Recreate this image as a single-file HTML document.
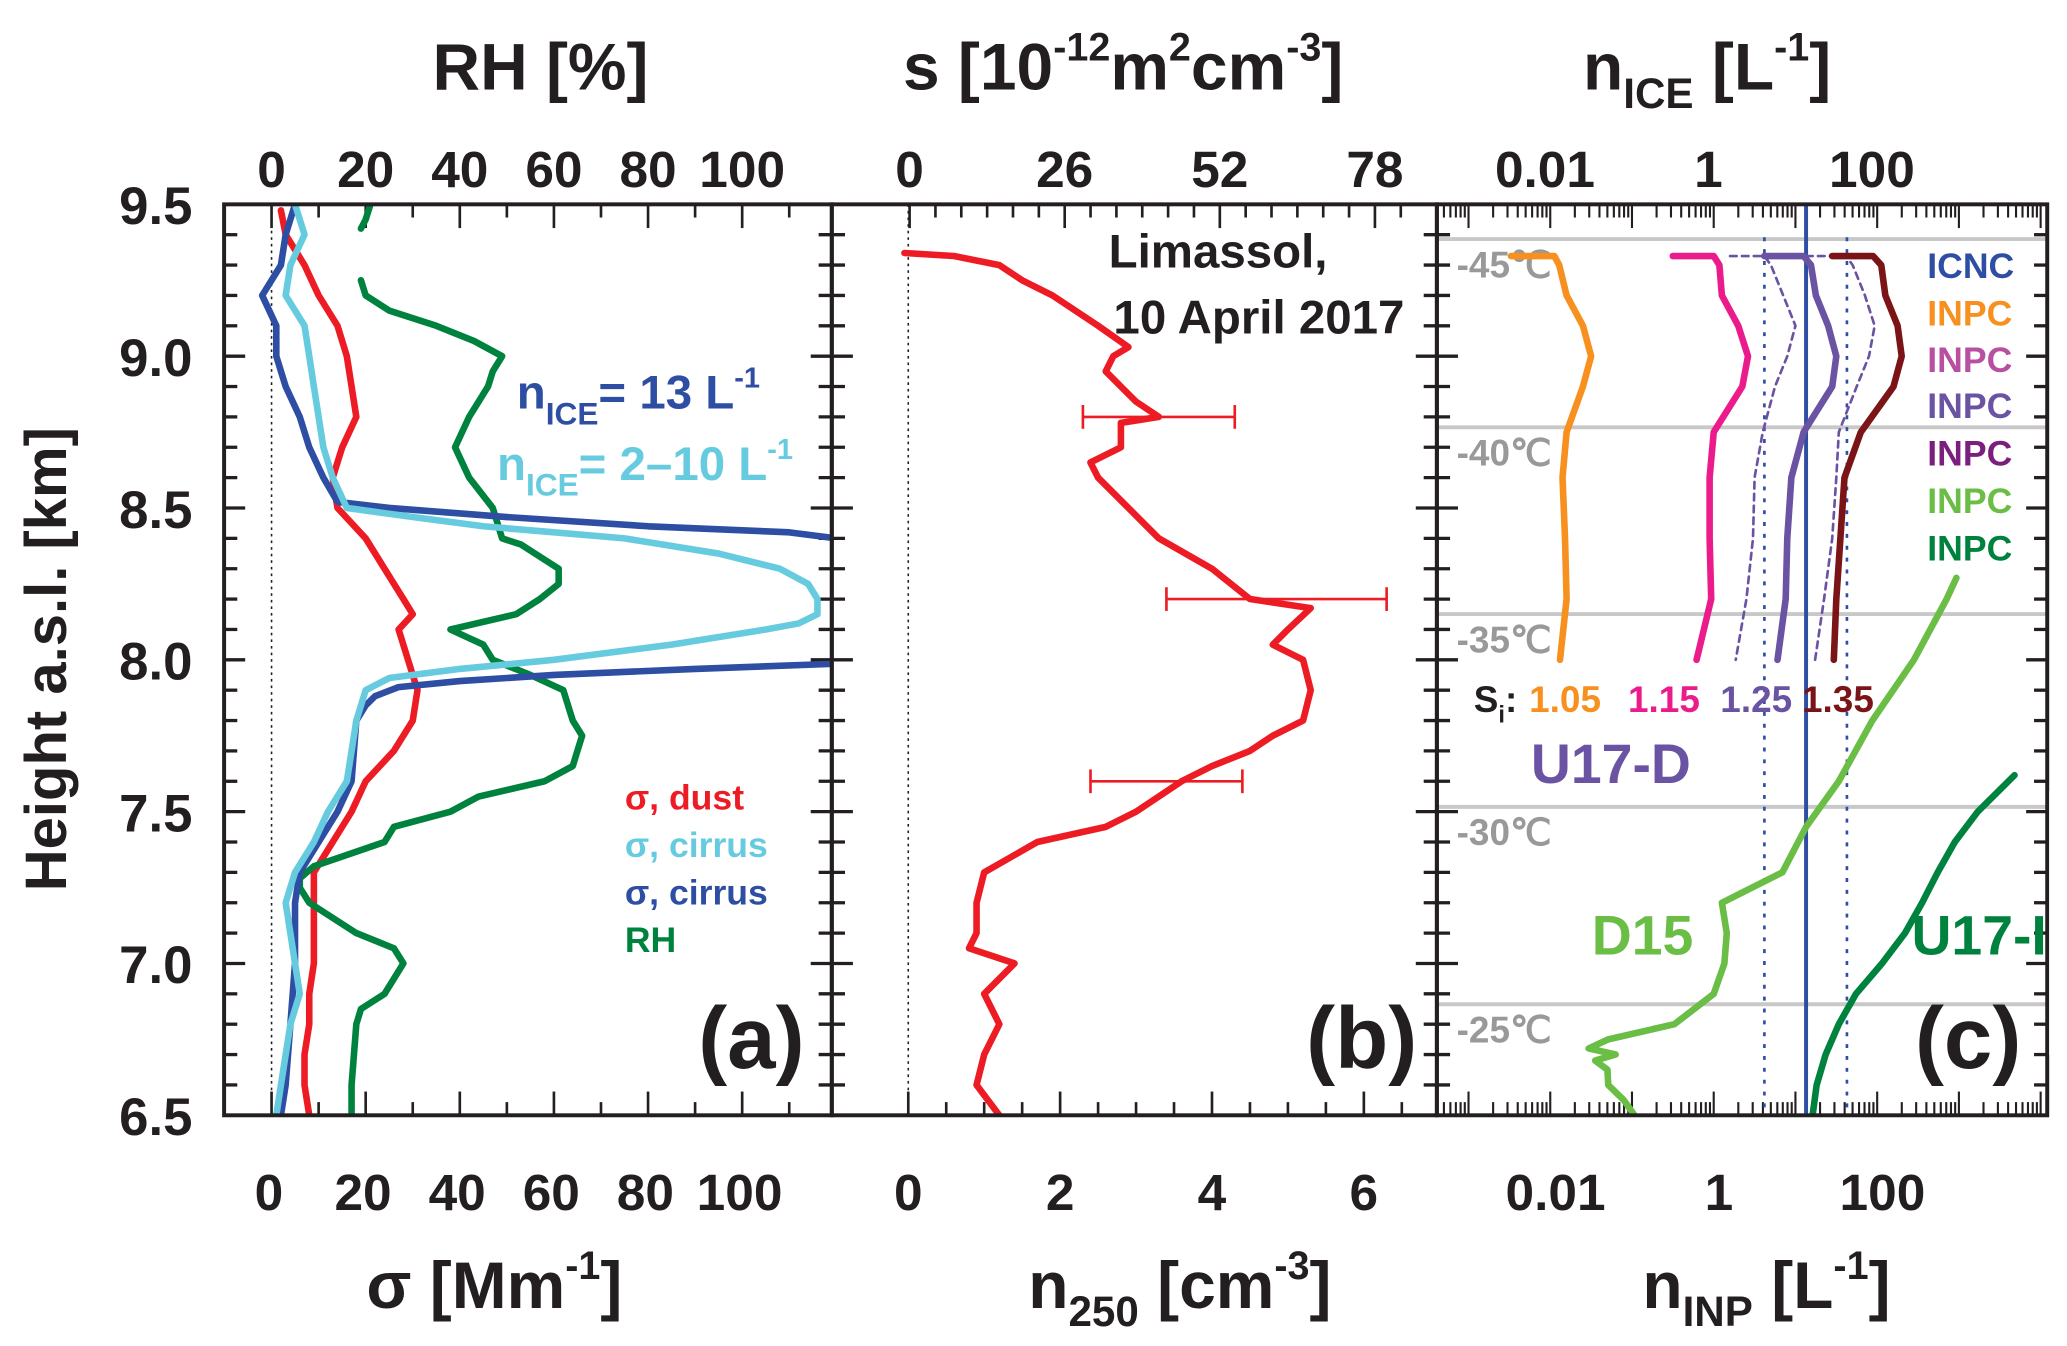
<!DOCTYPE html>
<html><head><meta charset="utf-8"><style>
html,body{margin:0;padding:0;background:#fff;}
svg{display:block;}
text{font-family:"Liberation Sans",Arial,sans-serif;font-weight:bold;}
</style></head><body>
<svg id="fig" xmlns="http://www.w3.org/2000/svg" width="2067" height="1346" viewBox="0 0 1568 1021" preserveAspectRatio="none"></svg>
<script>
// ---------- data ----------
const dustH=[9.48,9.4,9.3,9.2,9.1,9.0,8.9,8.8,8.7,8.6,8.5,8.4,8.3,8.2,8.15,8.1,8.0,7.9,7.8,7.7,7.6,7.5,7.4,7.3,7.2,7.1,7.0,6.9,6.8,6.7,6.6,6.5];
const dustV=[2,3,7,10,14,16,17,18,15,13,14,20,24,28,30,27,29,31,30,26,20,17,13,9,9,9,9,8,8,7,7,8];
const cirBH=[9.5,9.4,9.3,9.2,9.1,9.0,8.9,8.8,8.7,8.6,8.52,8.5,8.47,8.44,8.42,8.39];
const cirBV=[5,3,2,-2,1,1,3,6,8,11,14,25,50,80,110,125];
const cirB2H=[7.99,7.97,7.95,7.93,7.91,7.88,7.85,7.8,7.6,7.5,7.4,7.3,7.2,7.0,6.8,6.6,6.5];
const cirB2V=[125,90,60,40,27,22,20,18,17,14,10,6,5,5,4,3,2];
const cirCH=[9.5,9.4,9.3,9.2,9.1,9.0,8.9,8.8,8.7,8.6,8.5,8.47,8.44,8.42,8.4,8.35,8.3,8.25,8.2,8.15,8.12,8.1,8.05,8.0,7.97,7.94,7.9,7.8,7.6,7.5,7.4,7.3,7.2,7.0,6.9,6.8,6.6,6.5];
const cirCV=[5,7,4,3,7,8,9,10,11,13,16,30,45,60,75,95,108,114,116,116,112,105,85,60,40,25,20,18,16,12,9,5,3,5,6,4,2,1];
const rhH1=[9.5,9.45,9.42];
const rhV1=[21,20,19];
const rhH2=[9.25,9.2,9.15,9.1,9.05,9.0,8.95,8.9,8.8,8.7,8.6,8.5,8.45,8.4,8.38,8.3,8.25,8.2,8.15,8.1,8.05,8.0,7.95,7.9,7.8,7.75,7.7,7.65,7.6,7.55,7.5,7.45,7.4,7.32,7.28,7.25,7.2,7.1,7.05,7.0,6.95,6.9,6.85,6.8,6.6,6.5];
const rhV2=[19,20,25,35,43,49,47,46,42,39,42,47,48,49,53,61,61,57,52,38,45,47,55,62,64,66,65,64,58,44,38,26,24,9,6,6,8,18,26,28,26,24,19,18,17,17];
const nH=[9.34,9.33,9.3,9.25,9.2,9.1,9.03,9.0,8.95,8.9,8.85,8.8,8.78,8.7,8.65,8.6,8.5,8.4,8.3,8.2,8.17,8.1,8.05,8.0,7.9,7.8,7.75,7.7,7.65,7.6,7.5,7.45,7.4,7.3,7.2,7.1,7.05,7.0,6.9,6.8,6.7,6.6,6.5];
const nV=[-0.05,0.6,1.2,1.5,1.9,2.5,2.9,2.7,2.6,2.8,3.0,3.3,2.8,2.8,2.4,2.5,2.9,3.3,4.0,4.5,5.3,5.0,4.8,5.2,5.3,5.2,4.8,4.5,4.0,3.6,3.0,2.6,1.7,1.0,0.9,0.9,0.8,1.4,1.0,1.2,1.0,0.9,1.2];
const errH=[8.8,8.2,7.6];
const errLo=[2.3,3.4,2.4];
const errHi=[4.3,6.3,4.4];
const orH=[9.33,9.33,9.3,9.2,9.1,9.0,8.9,8.75,8.6,8.4,8.2,8.0];
const orV=[-2.48,-1.95,-1.89,-1.8,-1.6,-1.5,-1.6,-1.8,-1.85,-1.82,-1.8,-1.88];
const pkH=[9.33,9.33,9.3,9.2,9.1,9.0,8.9,8.75,8.6,8.4,8.2,8.0];
const pkV=[-0.5,0.0,0.07,0.1,0.3,0.42,0.35,0.0,-0.05,-0.05,-0.03,-0.21];
const puH=[9.33,9.33,9.3,9.2,9.1,9.0,8.9,8.75,8.6,8.4,8.2,8.0];
const puV=[0.62,1.1,1.19,1.25,1.4,1.5,1.45,1.1,0.95,0.9,0.88,0.78];
const drH=[9.33,9.33,9.3,9.2,9.1,9.0,8.9,8.75,8.6,8.4,8.2,8.0];
const drV=[1.45,1.95,2.05,2.1,2.25,2.3,2.2,1.8,1.6,1.55,1.5,1.47];
const dlH=[9.33,9.33,9.3,9.2,9.1,9.0,8.9,8.75,8.6,8.4,8.2,8.0];
const dlV=[0.2,0.62,0.7,0.85,1.0,0.9,0.75,0.6,0.5,0.48,0.4,0.27];
const drsH=[9.33,9.33,9.3,9.2,9.1,9.0,8.9,8.75,8.6,8.4,8.2,8.0];
const drsV=[1.13,1.62,1.7,1.85,1.97,1.9,1.75,1.53,1.5,1.45,1.35,1.24];
const d15H=[8.27,8.2,8.0,7.8,7.6,7.45,7.3,7.2,7.1,7.0,6.9,6.8,6.75,6.72,6.7,6.68,6.65,6.6,6.55,6.5];
const d15V=[2.97,2.85,2.45,1.94,1.53,1.13,0.84,0.1,0.16,0.13,0.0,-0.48,-1.29,-1.53,-1.2,-1.45,-1.3,-1.29,-1.1,-0.97];
const u17H=[7.62,7.5,7.4,7.3,7.2,7.1,7.0,6.9,6.8,6.7,6.6,6.5];
const u17V=[3.68,3.23,2.95,2.74,2.55,2.34,2.06,1.74,1.53,1.37,1.26,1.21];
const icnc=[1.13];
const icncRange=[0.62,1.63];
const tempH=[9.39,8.77,8.155,7.52,6.87];
const tempLbl=["-45\u2103","-40\u2103","-35\u2103","-30\u2103","-25\u2103"];
const yTicks=[6.5,7.0,7.5,8.0,8.5,9.0,9.5];
const sigTicks=[0,20,40,60,80,100];
const nTicks=[0,2,4,6];
const sTicks=[0,26,52,78];
const logTicks=[-2,0,2];
const logLbl=["0.01","1","100"];

// ---------- axes ----------
const NS="http://www.w3.org/2000/svg";
const svg=document.getElementById('fig');
const T=155,B=846;
const y=h=>T+(9.5-h)*(B-T)/3;
const xa=v=>206+v*3.57;
const xb=v=>689+v*57.6;
const xs=v=>690+v*(1043-690)/78;
const xc=v=>1300+v*62;
const A=[170,631],Bp=[631,1090],C=[1090,1553];
function el(tag,attrs,parent){const e=document.createElementNS(NS,tag);for(const k in attrs)e.setAttribute(k,attrs[k]);(parent||svg).appendChild(e);return e;}
function clip(id,r){const c=el('clipPath',{id:id});el('rect',{x:r[0],y:T,width:r[1]-r[0],height:B-T},c);}
clip('ca',A);clip('cb',Bp);clip('cc',C);
function line(x1,y1,x2,y2,st,w,extra){return el('line',Object.assign({x1,y1,x2,y2,stroke:st,'stroke-width':w},extra||{}));}
function txt(s,x,yy,size,fill,anchor,extra){const t=el('text',Object.assign({x,y:yy,'font-size':size,fill:fill||'#231f20','text-anchor':anchor||'middle'},extra||{}));t.textContent=s;return t;}
function poly(H,V,fx,color,w,clipId,name,dash){
 const pts=H.map((h,i)=>fx(V[i]).toFixed(1)+','+y(h).toFixed(1)).join(' ');
 const p=el('polyline',{points:pts,fill:'none',stroke:color,'stroke-width':w,'stroke-linejoin':'round','stroke-linecap':'round','clip-path':'url(#'+clipId+')'});
 if(dash)p.setAttribute('stroke-dasharray',dash);
 
 
 return p;
}

tempH.forEach((h,i)=>{
 const l=line(C[0],y(h)+1,C[1],y(h)+1,'#c8c8c8',3);
 
 
 const t=txt(tempLbl[i],1105,y(h)+30,28,'#999','start',{'font-weight':'normal'});
 
 
});

line(xa(0),T,xa(0),B,'#231f20',1.2,{'stroke-dasharray':'2,3'});
line(xb(0),T,xb(0),B,'#231f20',1.2,{'stroke-dasharray':'2,3'});

for(let k=0;k<=30;k++){const h=6.5+k*0.1,yy=y(h),maj=(k%5===0);
 const L=maj?16:10;
 line(170,yy,170+L,yy,'#231f20',2.5);
 line(631-L,yy,631+L,yy,'#231f20',2.5);
 line(1090-L,yy,1090+L,yy,'#231f20',2.5);
 line(1553-L,yy,1553,yy,'#231f20',2.5);
}
yTicks.forEach(h=>{const t=txt(h.toFixed(1),146,y(h)+15,40,null,'end');});
for(let v=0;v<=120;v+=10){const maj=v%20===0,L=maj?18:10;
 if(xa(v)>A[1])break;
 line(xa(v),T,xa(v),T+L,'#231f20',2);line(xa(v),B,xa(v),B-L,'#231f20',2);}
sigTicks.forEach(v=>{const t1=txt(String(v),xa(v)-2,918,39);
 const t2=txt(String(v),xa(v),142,39);});
for(let v=0;v<=7;v+=0.5){const L=(v%2===0)?18:10;if(xb(v)>Bp[1])break;line(xb(v),B,xb(v),B-L,'#231f20',2);}
for(let v=0;v<=84;v+=13/3){const L=(Math.abs(v/26-Math.round(v/26))<0.01)?18:10;if(xs(v)>Bp[1])break;line(xs(v),T,xs(v),T+L,'#231f20',2);}
nTicks.forEach(v=>{const t=txt(String(v),xb(v),918,39);});
sTicks.forEach(v=>{const t=txt(String(v),xs(v),142,39);});
for(let d=-4;d<=4;d++){for(let m=1;m<10;m++){const lv=d+Math.log10(m),xx=xc(lv);if(xx<C[0]||xx>C[1])continue;const L=m===1?18:10;
 line(xx,T,xx,T+L,'#231f20',1.6);line(xx,B,xx,B-L,'#231f20',1.6);}}
logTicks.forEach((v,i)=>{const t=txt(logLbl[i],xc(v)-4,142,39);
 const t2=txt(logLbl[i],xc(v)+4,918,39);});

const ic=line(xc(icnc[0]),T,xc(icnc[0]),B,'#2e4ea3',3);
icncRange.forEach(v=>{const d=line(xc(v),T+25,xc(v),B,'#2e4ea3',2,{'stroke-dasharray':'3,6'});});

poly(dustH,dustV,xa,'#ed1c24',5,'ca','dust-sigma-line');
poly(rhH1,rhV1,xa,'#00823f',5,'ca','rh-line-top');
poly(rhH2,rhV2,xa,'#00823f',5,'ca','rh-line');
poly(cirBH,cirBV,xa,'#2e4ea3',5,'ca','cirrus-sigma-13-line');
poly(cirB2H,cirB2V,xa,'#2e4ea3',5,'ca','cirrus-sigma-13-line-lower');
poly(cirCH,cirCV,xa,'#67cbe0',5,'ca','cirrus-sigma-2-10-line');
poly(nH,nV,xb,'#ed1c24',5,'cb','n250-line');
errH.forEach((h,i)=>{const yy=y(h);
 const g=el('g',{stroke:'#ed1c24','stroke-width':2});
 
 el('line',{x1:xb(errLo[i]),y1:yy,x2:xb(errHi[i]),y2:yy},g);
 el('line',{x1:xb(errLo[i]),y1:yy-9,x2:xb(errLo[i]),y2:yy+9},g);
 el('line',{x1:xb(errHi[i]),y1:yy-9,x2:xb(errHi[i]),y2:yy+9},g);});
poly(dlH,dlV,xc,'#6a53a3',2,'cc','inpc-125-lower-dashed','5,4');
poly(drsH,drsV,xc,'#6a53a3',2,'cc','inpc-125-upper-dashed','5,4');
poly(orH,orV,xc,'#f7901e',5,'cc','inpc-105-line');
poly(pkH,pkV,xc,'#ec1b8b',5,'cc','inpc-115-line');
poly(puH,puV,xc,'#6a53a3',5,'cc','inpc-125-line');
poly(drH,drV,xc,'#7a1416',5,'cc','inpc-135-line');
poly(d15H,d15V,xc,'#6abd45',5,'cc','d15-line');
poly(u17H,u17V,xc,'#00823f',5,'cc','u17-i-line');

[A,Bp,C].forEach((r,i)=>{const f=el('rect',{x:r[0],y:T,width:r[1]-r[0],height:B-T,fill:'none',stroke:'#231f20','stroke-width':3});
 });
</script>
<svg style="position:absolute;left:0;top:0" width="2067" height="1346" viewBox="0 0 1568 1021" preserveAspectRatio="none" xmlns="http://www.w3.org/2000/svg">
<g font-family="Liberation Sans, Arial, sans-serif" font-weight="bold" fill="#231f20">
<text x="410" y="68" font-size="50" text-anchor="middle">RH  [%]</text>
<text x="852" y="68" font-size="50" text-anchor="middle">s [10<tspan font-size="30" dy="-22">-12</tspan><tspan dy="22">m</tspan><tspan font-size="30" dy="-22">2</tspan><tspan dy="22">cm</tspan><tspan font-size="30" dy="-22">-3</tspan><tspan dy="22">]</tspan></text>
<text x="1295" y="68" font-size="50" text-anchor="middle">n<tspan font-size="32" dy="14">ICE</tspan><tspan dy="-14"> [L</tspan><tspan font-size="30" dy="-22">-1</tspan><tspan dy="22">]</tspan></text>
<text x="375" y="992" font-size="50" text-anchor="middle">σ [Mm<tspan font-size="30" dy="-22">-1</tspan><tspan dy="22">]</tspan></text>
<text x="895" y="992" font-size="50" text-anchor="middle">n<tspan font-size="32" dy="14">250</tspan><tspan dy="-14"> [cm</tspan><tspan font-size="30" dy="-22">-3</tspan><tspan dy="22">]</tspan></text>
<text x="1340" y="992" font-size="50" text-anchor="middle">n<tspan font-size="32" dy="14">INP</tspan><tspan dy="-14"> [L</tspan><tspan font-size="30" dy="-22">-1</tspan><tspan dy="22">]</tspan></text>
<text transform="translate(50,500) rotate(-90)" font-size="44" text-anchor="middle">Height a.s.l. [km]</text>
<text x="570" y="810" font-size="66" text-anchor="middle">(a)</text>
<text x="1033" y="810" font-size="66" text-anchor="middle">(b)</text>
<text x="1493" y="810" font-size="66" text-anchor="middle">(c)</text>
<text x="924" y="203" font-size="36" text-anchor="middle">Limassol,</text>
<text x="955" y="253" font-size="36" text-anchor="middle">10 April 2017</text>
<text x="392" y="310" font-size="36" fill="#2e4ea3">n<tspan font-size="24" dy="12">ICE</tspan><tspan dy="-12">= 13 L</tspan><tspan font-size="22" dy="-16">-1</tspan></text>
<text x="377" y="364" font-size="36" fill="#67cbe0">n<tspan font-size="24" dy="12">ICE</tspan><tspan dy="-12">= 2–10 L</tspan><tspan font-size="22" dy="-16">-1</tspan></text>
<g font-size="27">
<text x="474" y="614" fill="#ed1c24">σ, dust</text>
<text x="474" y="650" fill="#67cbe0">σ, cirrus</text>
<text x="474" y="686" fill="#2e4ea3">σ, cirrus</text>
<text x="474" y="722" fill="#00823f">RH</text>
<text x="1462" y="211" fill="#2e4ea3">ICNC</text>
<text x="1462" y="247" fill="#f7901e">INPC</text>
<text x="1462" y="282" fill="#b94fa0">INPC</text>
<text x="1462" y="317" fill="#6a53a3">INPC</text>
<text x="1462" y="353" fill="#7b1f7e">INPC</text>
<text x="1462" y="389" fill="#6abd45">INPC</text>
<text x="1462" y="425" fill="#00823f">INPC</text>
</g>
<text x="1118" y="540" font-size="28">S<tspan font-size="18" dy="8">i</tspan><tspan dy="-8">:</tspan></text>
<g font-size="28">
<text x="1160" y="540" fill="#f7901e">1.05</text>
<text x="1235" y="540" fill="#ec1b8b">1.15</text>
<text x="1305" y="540" fill="#6a53a3">1.25</text>
<text x="1367" y="540" fill="#7a1416">1.35</text>
</g>
<text x="1222" y="594" font-size="42" fill="#6a53a3" text-anchor="middle">U17-D</text>
<text x="1246" y="724" font-size="42" fill="#6abd45" text-anchor="middle">D15</text>
<text x="1450" y="724" font-size="42" fill="#00823f">U17-I</text>
</g>
<rect x="1554.5" y="600" width="14" height="200" fill="#fff"/>
</svg>
</body></html>
